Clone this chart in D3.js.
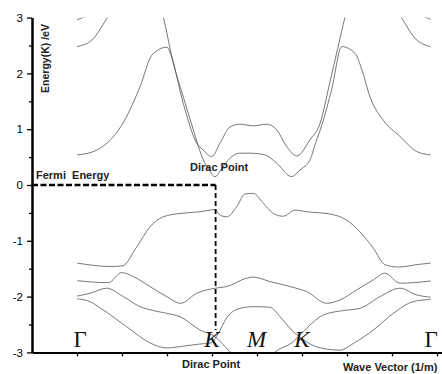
<!DOCTYPE html>
<html>
<head>
<meta charset="utf-8">
<script src="https://cdn.jsdelivr.net/npm/d3@7"></script>
<style>
  body { margin: 0; background: #fff; }
  svg { display: block; }
  .band { fill: none; stroke: #555; stroke-width: 0.8; }
  .axis path, .axis line { stroke: #000; }
  .axis path { stroke-width: 2; }
  .axis line { stroke-width: 1.3; }
  .axis text { font-family: "Liberation Sans", Arial, sans-serif; font-size: 11.5px; fill: #000; }
  .lbl { font-family: "Liberation Sans", Arial, sans-serif; font-weight: bold; fill: #222; }
  .sym { font-family: "Liberation Serif", "Times New Roman", serif; font-size: 23px; fill: #111; }
</style>
</head>
<body>
<svg width="442" height="374"></svg>
<script>
const width = 442;
const height = 374;

// 坐标轴刻度
const yTicks = [-3, -2, -1, 0, 1, 2, 3];
const yMinor = [-2.5, -1.5, -0.5, 0.5, 1.5, 2.5];
const xTicks = [1, 2, 3, 4, 5, 6, 7, 8, 9];

// 高对称点
const symLabels = ["Γ", "K", "M", "K", "Γ"];
const symPos = [1.07, 4.0, 4.99, 6.0, 8.87];
const symItalic = [false, true, true, true, false];

const fermi = 0;
const diracK = 4.08;
const diracBottom = -2.6;

// 能带 [k, E(eV)]
const bandC1 = [[1.0, 0.54], [1.333, 0.59], [1.667, 0.75], [2.022, 1.11], [2.4, 1.76], [2.667, 2.33],
  [3.0, 2.47], [3.067, 2.38], [3.362, 1.46], [3.66, 0.75], [3.8, 0.63], [3.993, 0.51], [4.178, 0.75],
  [4.4, 1.04], [4.622, 1.09], [4.918, 1.06], [5.215, 1.09], [5.438, 0.99], [5.66, 0.69], [5.882, 0.52],
  [6.178, 0.81], [6.4, 1.1], [6.622, 1.85], [6.8, 2.47], [6.956, 3.01], [7.0, 3.15]];
const bandC2 = [[2.889, 3.1], [2.933, 2.96], [3.14, 2.18], [3.362, 1.58], [3.584, 0.99], [3.807, 0.45],
  [3.933, 0.27], [4.067, 0.15], [4.222, 0.3], [4.362, 0.45], [4.622, 0.57], [4.844, 0.57], [5.178, 0.54],
  [5.438, 0.39], [5.771, 0.15], [5.956, 0.27], [6.178, 0.45], [6.3, 0.75], [6.444, 1.08], [6.667, 1.74],
  [6.882, 2.48], [7.178, 2.36], [7.333, 2.06], [7.511, 1.58], [7.807, 1.16], [8.178, 0.87], [8.549, 0.6],
  [8.86, 0.54]];
const bandC3L = [[1.0, 2.48], [1.333, 2.6], [1.667, 2.99], [1.756, 3.1]];
const bandC4L = [[1.0, 2.96], [1.1, 2.99], [1.25, 3.05]];
const bandC3R = [[8.122, 3.1], [8.216, 2.99], [8.511, 2.63], [8.86, 2.48]];
const bandC4R = [[8.644, 3.05], [8.756, 3.0], [8.86, 2.97]];

const bandV1 = [[1.007, -1.4], [1.733, -1.46], [2.007, -1.45], [2.327, -1.11], [2.622, -0.75], [2.918, -0.57],
  [3.289, -0.51], [3.733, -0.48], [4.067, -0.44], [4.178, -0.54], [4.327, -0.57], [4.549, -0.39],
  [4.733, -0.16], [4.918, -0.15], [5.133, -0.32], [5.362, -0.51], [5.584, -0.56], [5.844, -0.45],
  [6.104, -0.48], [6.622, -0.52], [6.993, -0.63], [7.289, -0.84], [7.584, -1.13], [7.844, -1.43],
  [8.14, -1.47], [8.622, -1.42], [8.86, -1.4]];
const bandV2 = [[1.007, -1.715], [1.696, -1.75], [1.993, -1.57], [2.251, -1.64], [2.622, -1.82], [2.993, -2.0],
  [3.304, -2.12], [3.66, -1.94], [4.067, -1.85], [4.327, -1.82], [4.771, -1.67], [4.918, -1.65],
  [5.289, -1.73], [5.733, -1.82], [6.104, -1.91], [6.549, -2.12], [6.844, -2.06], [7.216, -1.88],
  [7.584, -1.7], [7.844, -1.58], [8.178, -1.76], [8.86, -1.72]];
const bandV3 = [[1.007, -1.99], [1.289, -1.94], [1.66, -1.85], [2.029, -2.0], [2.4, -2.18], [2.696, -2.25],
  [2.993, -2.3], [3.289, -2.36], [3.733, -2.6], [4.067, -2.72], [4.362, -2.96], [4.533, -3.1],
  [4.9, -3.3], [5.244, -3.1], [5.438, -2.97], [5.771, -2.83], [6.0, -2.65], [6.473, -2.33],
  [6.918, -2.25], [7.289, -2.21], [7.733, -2.0], [8.178, -1.85], [8.549, -1.97], [8.86, -2.01]];
const bandV4 = [[1.007, -2.04], [1.289, -2.09], [1.511, -2.2], [2.104, -2.54], [2.622, -2.83], [2.993, -2.92],
  [3.438, -2.88], [3.733, -2.85], [3.978, -2.83], [4.133, -2.67], [4.327, -2.38], [4.622, -2.21],
  [4.918, -2.18], [5.289, -2.19], [5.511, -2.36], [5.771, -2.6], [5.993, -2.75], [6.327, -2.9],
  [6.844, -2.96], [7.14, -2.84], [7.584, -2.6], [8.029, -2.3], [8.473, -2.09], [8.86, -2.05]];

const bands = [bandC1, bandC2, bandC3L, bandC4L, bandC3R, bandC4R, bandV1, bandV2, bandV3, bandV4];

const x0 = 32, x1 = 442;
const x = d3.scaleLinear().domain([0, (x1 - x0) / 45]).range([x0, x1]);
const y = d3.scaleLinear().domain([-3, 3]).range([352.4, 17.6]);

const svg = d3.select("svg");

// 裁剪区域
svg.append("clipPath").attr("id", "plot")
  .append("rect")
  .attr("x", x0).attr("y", y(3))
  .attr("width", x1 - x0).attr("height", y(-3) - y(3));

const line = d3.line()
  .x(d => x(d[0]))
  .y(d => y(d[1]))
  .curve(d3.curveMonotoneX);

svg.append("g").attr("clip-path", "url(#plot)")
  .selectAll("path")
  .data(bands)
  .join("path")
  .attr("class", "band")
  .attr("d", line);

// 费米能级 与 狄拉克点虚线
svg.append("line")
  .attr("x1", x(0)).attr("x2", x(diracK))
  .attr("y1", y(fermi)).attr("y2", y(fermi))
  .attr("stroke", "#000").attr("stroke-width", 2.6)
  .attr("stroke-dasharray", "6,2.5");

svg.append("line")
  .attr("x1", x(diracK)).attr("x2", x(diracK))
  .attr("y1", y(fermi)).attr("y2", y(diracBottom))
  .attr("stroke", "#000").attr("stroke-width", 1.8)
  .attr("stroke-dasharray", "5,3");

// 坐标轴
svg.append("g").attr("class", "axis")
  .attr("transform", `translate(${x0},0)`)
  .call(d3.axisLeft(y).tickValues(yMinor).tickSize(3).tickSizeOuter(0).tickFormat(""));

svg.append("g").attr("class", "axis")
  .attr("transform", `translate(${x0},0)`)
  .call(d3.axisLeft(y).tickValues(yTicks).tickSize(5).tickSizeOuter(0).tickPadding(4).tickFormat(d => String(d)));

svg.append("g").attr("class", "axis")
  .attr("transform", `translate(0,${y(-3)})`)
  .call(d3.axisBottom(x).tickValues(xTicks).tickSize(4).tickSizeOuter(0).tickFormat(""));

// 高对称点标签
svg.selectAll("text.sym")
  .data(symLabels)
  .join("text")
  .attr("class", "sym")
  .attr("x", (d, i) => x(symPos[i]))
  .attr("y", y(-3) - 5)
  .attr("text-anchor", "middle")
  .style("font-style", (d, i) => symItalic[i] ? "italic" : "normal")
  .text(d => d);

// 文字
svg.append("text").attr("class", "lbl")
  .attr("transform", `translate(49,58.5) rotate(-90)`)
  .attr("text-anchor", "middle")
  .style("font-size", "10.5px")
  .text("Energy(K) /eV");

svg.append("text").attr("class", "lbl")
  .attr("x", 36).attr("y", 179)
  .style("font-size", "11px")
  .style("white-space", "pre")
  .text("Fermi  Energy");

svg.append("text").attr("class", "lbl")
  .attr("x", 190).attr("y", 171)
  .style("font-size", "11px")
  .text("Dirac Point");

svg.append("text").attr("class", "lbl")
  .attr("x", 182).attr("y", 368)
  .style("font-size", "11px")
  .text("Dirac Point");

svg.append("text").attr("class", "lbl")
  .attr("x", 343).attr("y", 371)
  .style("font-size", "11px")
  .text("Wave Vector (1/m)");
</script>
</body>
</html>
